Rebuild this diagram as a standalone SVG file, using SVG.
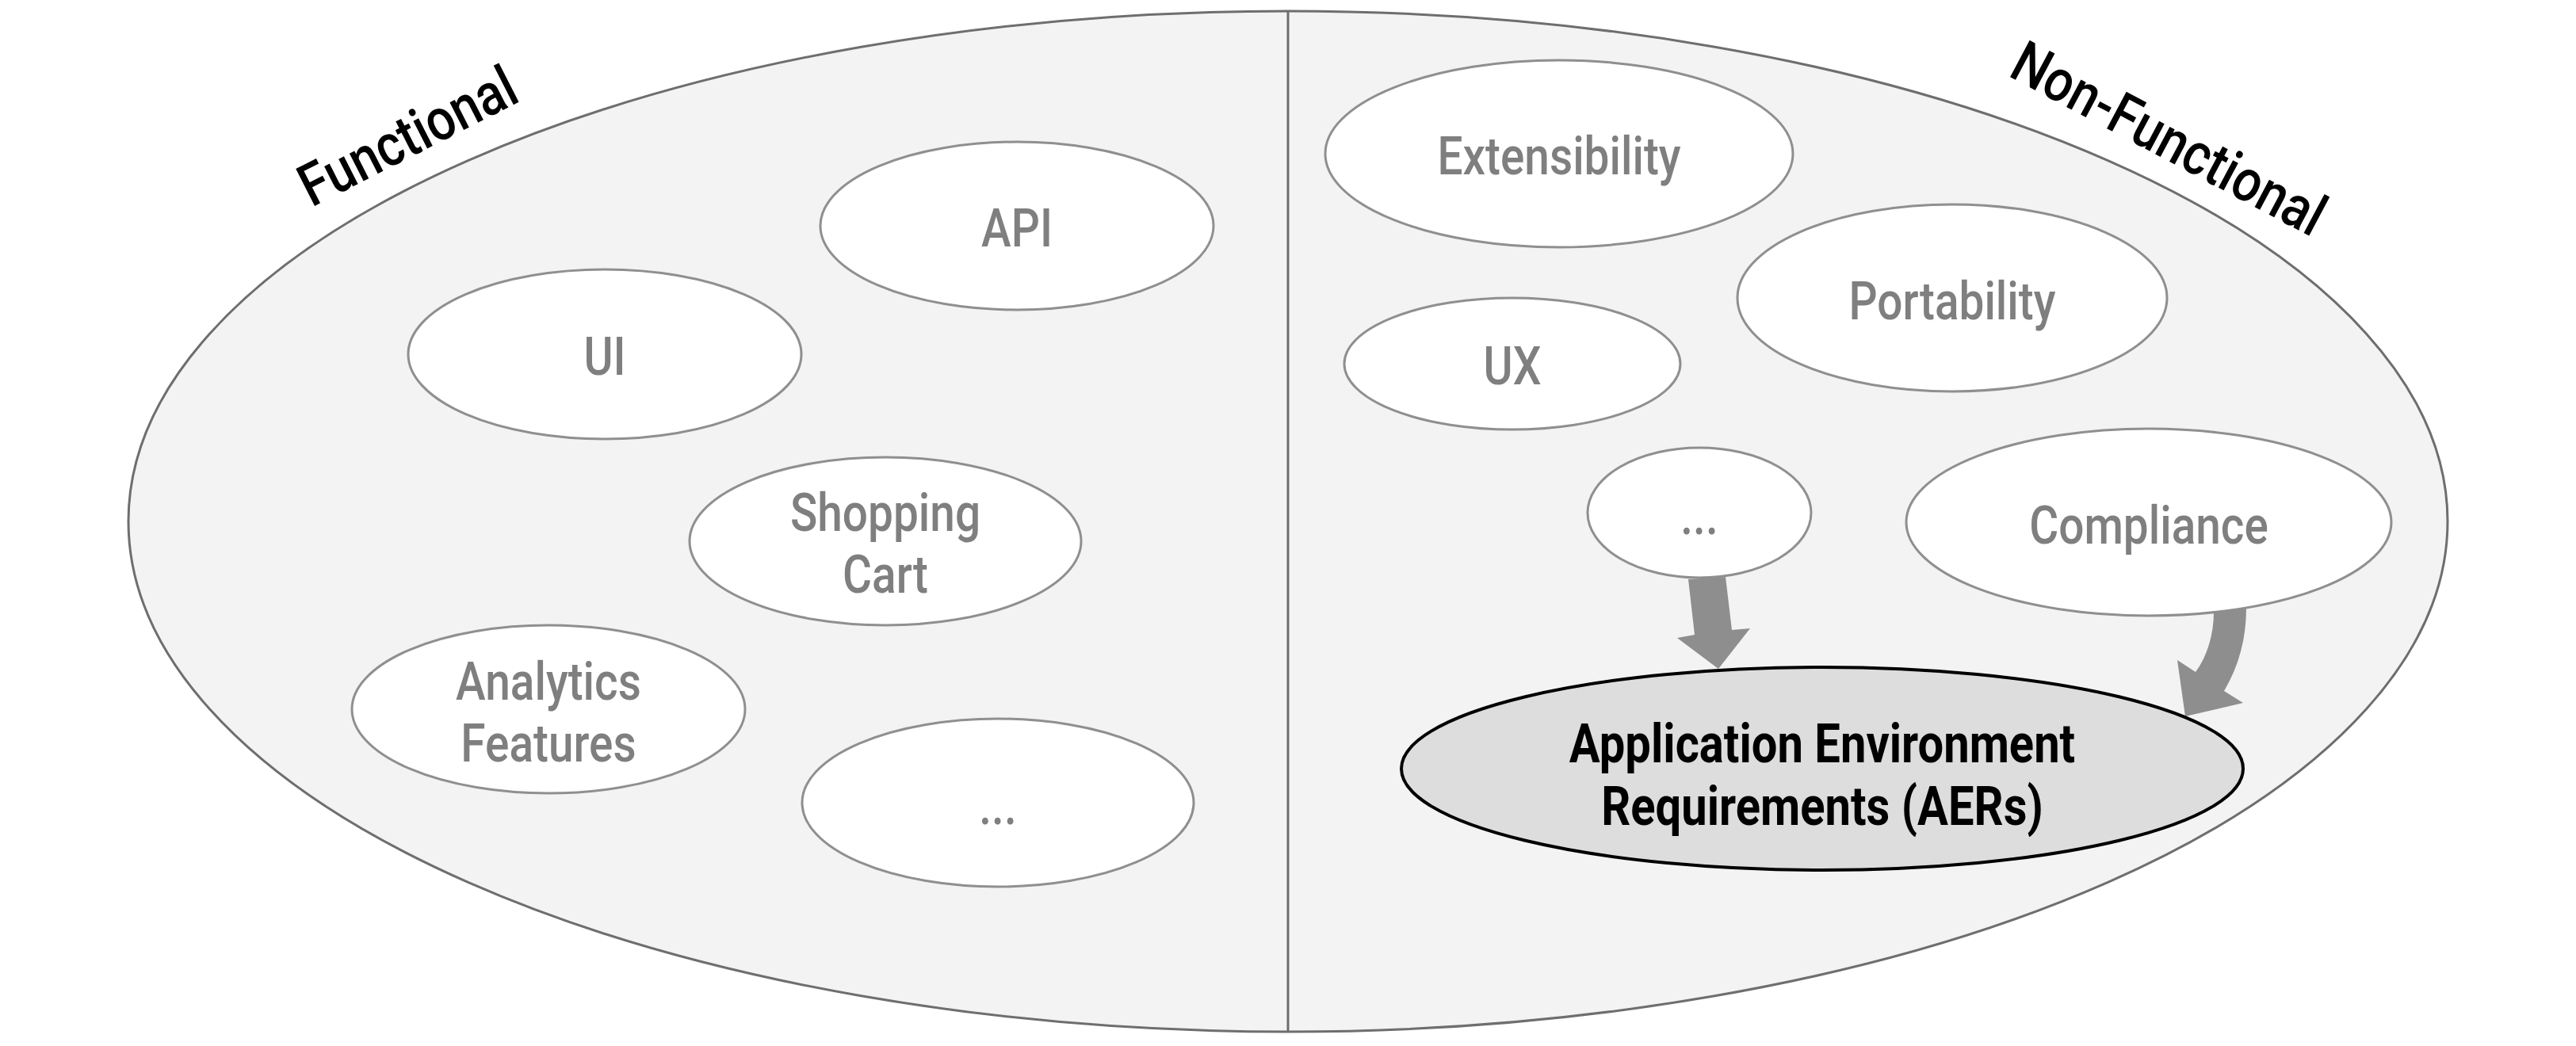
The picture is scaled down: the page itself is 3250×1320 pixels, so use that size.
<svg xmlns="http://www.w3.org/2000/svg" width="3250" height="1320" viewBox="0 0 3250 1320">
<style>
.node{fill:#ffffff;stroke:#8f8f8f;stroke-width:3}
.lbl{font-family:Roboto,"Liberation Sans",sans-serif;font-size:66px;font-weight:500;fill:#7f7f7f;text-anchor:middle}
.aer{fill:#dddddd;stroke:#000000;stroke-width:4}
.aert{font-family:Roboto,"Liberation Sans",sans-serif;font-size:69px;font-weight:bold;fill:#000000;text-anchor:middle}
.title{font-family:Roboto,"Liberation Sans",sans-serif;font-size:74px;font-weight:500;fill:#000000}
.arrow{fill:#8e8e8e;stroke:none}
</style>
<rect width="3250" height="1320" fill="#ffffff"/>
<g id="container">
<ellipse cx="1625" cy="658" rx="1463" ry="644" fill="#f3f3f3" stroke="#6e6e6e" stroke-width="3"/>
<line x1="1625" y1="14" x2="1625" y2="1302" stroke="#6e6e6e" stroke-width="3"/>
</g>
<g id="label-functional"><text class="title" transform="translate(393,262) rotate(-27) scale(0.86,1)">Functional</text></g>
<g id="label-nonfunctional"><text class="title" transform="translate(2532,95) rotate(28) scale(0.86,1)">Non-Functional</text></g>
<g id="api"><ellipse class="node" cx="1283" cy="285" rx="248" ry="106"/><text class="lbl" transform="translate(1283,311) scale(0.86,1)">API</text></g>
<g id="ui"><ellipse class="node" cx="763" cy="447" rx="248" ry="107"/><text class="lbl" transform="translate(763,473) scale(0.86,1)">UI</text></g>
<g id="shopping-cart"><ellipse class="node" cx="1117" cy="683" rx="247" ry="106"/><text class="lbl" transform="translate(1117,670) scale(0.86,1)">Shopping</text><text class="lbl" transform="translate(1117,748) scale(0.86,1)">Cart</text></g>
<g id="analytics"><ellipse class="node" cx="692" cy="895" rx="248" ry="106"/><text class="lbl" transform="translate(692,883) scale(0.86,1)">Analytics</text><text class="lbl" transform="translate(692,961) scale(0.86,1)">Features</text></g>
<g id="more-functional"><ellipse class="node" cx="1259" cy="1013" rx="247" ry="106"/><text class="lbl" transform="translate(1259,1040) scale(0.86,1)">...</text></g>
<g id="extensibility"><ellipse class="node" cx="1967" cy="194" rx="295" ry="118"/><text class="lbl" transform="translate(1967,220) scale(0.86,1)">Extensibility</text></g>
<g id="portability"><ellipse class="node" cx="2463" cy="376" rx="271" ry="118"/><text class="lbl" transform="translate(2463,403) scale(0.86,1)">Portability</text></g>
<g id="ux"><ellipse class="node" cx="1908" cy="459" rx="212" ry="83"/><text class="lbl" transform="translate(1908,485) scale(0.86,1)">UX</text></g>
<g id="more-nonfunctional"><ellipse class="node" cx="2144" cy="647" rx="141" ry="82"/><text class="lbl" transform="translate(2144,674) scale(0.86,1)">...</text></g>
<g id="compliance"><ellipse class="node" cx="2711" cy="659" rx="306" ry="118"/><text class="lbl" transform="translate(2711,686) scale(0.86,1)">Compliance</text></g>
<g id="connectors">
<path class="arrow" d="M2130,731 L2177,728 L2185,795 L2208,793 L2168,844 L2116,805 L2138,801 Z"/>
<path class="arrow" d="M2793,772 C2793,800 2785,828 2770,848 L2747,833 L2757,904 L2830,887 L2806,872 C2825,840 2834,805 2834,767 Z"/>
</g>
<g id="aer"><ellipse class="aer" cx="2299" cy="970" rx="531" ry="128"/><text class="aert" transform="translate(2299,962) scale(0.84,1)">Application Environment</text><text class="aert" transform="translate(2299,1041) scale(0.84,1)">Requirements (AERs)</text></g>
</svg>
